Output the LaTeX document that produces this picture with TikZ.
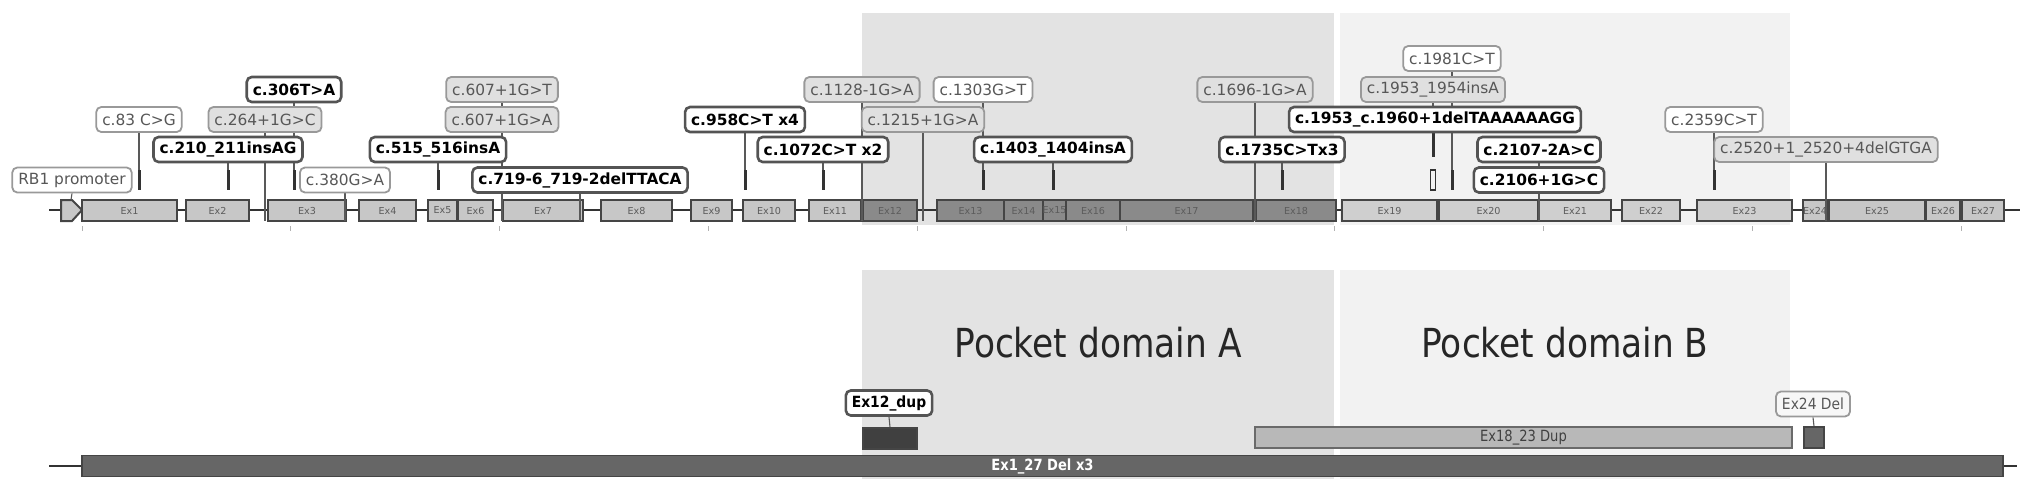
\documentclass[tikz,border=0pt]{standalone}
\usepackage{fontspec}
\setmainfont{DejaVu Sans}
\usetikzlibrary{backgrounds}
\definecolor{shadeA}{gray}{0.89}
\definecolor{shadeB}{gray}{0.95}
\definecolor{exA}{gray}{0.78}
\definecolor{exD}{gray}{0.54}
\definecolor{exB}{gray}{0.81}
\definecolor{exline}{gray}{0.27}
\definecolor{extext}{gray}{0.36}
\definecolor{labline}{gray}{0.6}
\definecolor{boldline}{gray}{0.33}
\definecolor{labtext}{gray}{0.34}
\definecolor{labgray}{gray}{0.88}
\definecolor{connc}{gray}{0.35}
\definecolor{tickc}{gray}{0.2}
\definecolor{delc}{gray}{0.4}
\definecolor{dupd}{gray}{0.25}
\definecolor{dupl}{gray}{0.72}
\definecolor{axc}{gray}{0.7}
\pgfdeclarelayer{bottomlayer}
\pgfdeclarelayer{linelayer}
\pgfsetlayers{bottomlayer,linelayer,main}
\tikzset{
  lab/.style={draw=labline, rounded corners=2.5pt, inner xsep=3pt, inner ysep=0pt,
    minimum height=12.5pt, font=\fontsize{7.7}{8}\selectfont, line width=0.9pt},
  labb/.style={lab, draw=boldline, fill=white, text=black,
    font=\fontsize{7.7}{8}\selectfont\bfseries, line width=1.3pt},
  labp/.style={lab, fill=white, text=labtext},
  labg/.style={lab, fill=labgray, text=labtext},
  conn/.style={draw=connc, line width=0.55pt},
  splice/.style={draw=connc, line width=0.7pt},
  tickm/.style={draw=tickc, line width=1.5pt},
  exon/.style={draw=exline, line width=1pt, minimum height=10.5pt, inner sep=0pt,
    font=\fontsize{4.8}{5}\selectfont, text=extext},
  bar/.style={draw=exline, line width=0.8pt, minimum height=10.5pt, inner sep=0pt},
  pocket/.style={font=\fontsize{20}{22}\selectfont, text=black!85},
  axtick/.style={draw=axc, line width=0.4pt},
  backbone/.style={draw=tickc, line width=1.3pt}
}
\begin{document}
\begin{tikzpicture}[x=0.5pt,y=-0.5pt]
\useasboundingbox (0,0) rectangle (2031,494);

\begin{pgfonlayer}{bottomlayer}
  % domain shading
  \fill[shadeA] (862,13) rectangle (1334,225);
  \fill[shadeB] (1340,13) rectangle (1790,225);
  \fill[shadeA] (862,270) rectangle (1334,479);
  \fill[shadeB] (1340,270) rectangle (1790,479);
  % axis ticks
  \foreach \k in {0,...,9} \draw[axtick] ({82+208.8*\k},226) -- ++(0,5);
  % backbone
  \coordinate (bbL) at (49,210);
  \coordinate (bbR) at (2020,210);
  \draw[backbone] (bbL) -- (bbR);
  % promoter
  \draw[fill=exA, draw=exline, line width=1pt] (61,200) -- (72,200) -- (82,210) -- (72,221) -- (61,221) -- cycle;
  \coordinate (promtop) at (71,200);
  % exons
  \foreach \n/\s/\e/\c in {1/82/177/exA, 2/186/249/exA, 3/268/346/exA, 4/359/416/exA,
      5/428/457/exA, 6/458/493/exA, 7/503/583/exA, 8/601/672/exA, 9/691/732/exA,
      10/743/795/exA, 11/809/861/exA, 12/863/917/exD, 13/937/1004/exD, 14/1004/1043/exD,
      15/1043/1066/exD, 16/1066/1120/exD, 17/1120/1253/exD, 18/1256/1336/exD,
      19/1342/1437/exB, 20/1439/1538/exB, 21/1539/1611/exB, 22/1622/1680/exB,
      23/1697/1792/exB, 24/1804/1826/exA, 25/1829/1925/exA, 26/1926/1960/exA, 27/1962/2004/exA}
    \node[exon, fill=\c, minimum width={(\e-\s)*0.5pt}] (ex\n) at ({(\s+\e)/2},210.5) {Ex\n};
  % lower panel backbone
  \coordinate (lbL) at (49,466);
  \coordinate (lbR) at (2017,466);
  \draw[backbone] (lbL) -- (lbR);
\end{pgfonlayer}

% lower panel bars
\node[bar, fill=delc, minimum width={(2003-82)*0.5pt}, text=white,
  font=\fontsize{7.7}{8}\selectfont\bfseries] (del127) at (1042.5,466) {\scalebox{0.85}[1]{Ex1\_27 Del x3}};
\node[bar, fill=dupd, minimum width=27pt] (ex12dup) at (890,438.5) {};
\node[bar, fill=dupl, draw=exline!80, minimum width={(1792-1255)*0.5pt}, text=black!75,
  font=\fontsize{7.7}{8}\selectfont] (dup1823) at (1523.5,437.5) {\scalebox{0.85}[1]{Ex18\_23 Dup}};
\node[bar, fill=delc, minimum width=10pt] (ex24del) at (1814,437.5) {};
\node[labb] (ex12lab) at (889,403) {\scalebox{0.9}[1]{Ex12\_dup}};
\node[labp, fill=black!3] (ex24lab) at (1813,404) {\scalebox{0.9}[1]{Ex24 Del}};
\node[pocket] (pA) at (1098,343) {\scalebox{0.86}[1]{Pocket domain A}};
\node[pocket] (pB) at (1565,343) {\scalebox{0.86}[1]{Pocket domain B}};

% variant labels
\node[labp] (prom) at (72,180) {RB1 promoter};
\node[labp] (v83) at (139,119.5) {c.83 C>G};
\node[labb] (v306) at (294,89.5) {c.306T>A};
\node[labg] (v264) at (265,119.5) {c.264+1G>C};
\node[labb] (v210) at (228,149.5) {c.210\_211insAG};
\node[labp] (v380) at (345,180) {c.380G>A};
\node[labb] (v515) at (438,149.5) {c.515\_516insA};
\node[labg] (v607T) at (502,89.5) {c.607+1G>T};
\node[labg] (v607A) at (502,119.5) {c.607+1G>A};
\node[labb] (v719) at (580,180) {c.719-6\_719-2delTTACA};
\node[labb] (v958) at (745,119.5) {c.958C>T x4};
\node[labb] (v1072) at (823,149.5) {c.1072C>T x2};
\node[labg] (v1128) at (862,89.5) {c.1128-1G>A};
\node[labg] (v1215) at (923,119.5) {c.1215+1G>A};
\node[labp] (v1303) at (983,89.5) {c.1303G>T};
\node[labb] (v1403) at (1053,149.5) {c.1403\_1404insA};
\node[labg] (v1696) at (1255,89.5) {c.1696-1G>A};
\node[labb] (v1735) at (1282,149.5) {c.1735C>Tx3};
\node[labp] (v1981) at (1452,58.5) {c.1981C>T};
\node[labg] (v1953i) at (1433,89.5) {c.1953\_1954insA};
\node[labb] (v1953d) at (1435,119.5) {c.1953\_c.1960+1delTAAAAAAGG};
\node[labb] (v2107) at (1539,149.5) {c.2107-2A>C};
\node[labb] (v2106) at (1539,180) {c.2106+1G>C};
\node[labp] (v2359) at (1714,119.5) {c.2359C>T};
\node[labg] (v2520) at (1826,149.5) {c.2520+1\_2520+4delGTGA};

\begin{pgfonlayer}{linelayer}
  % tick-type variants
  \foreach \v/\x in {v83/139, v306/294, v210/228, v515/438, v958/745, v1072/823,
      v1303/983, v1403/1053, v1735/1282, v1981/1452, v2359/1714} {
    \coordinate (\v-t) at (\x,170);
    \coordinate (\v-b) at (\x,190);
    \draw[conn] (\v.south) -- (\v-t);
    \draw[tickm] (\v-t) -- (\v-b);
  }
  % splice-type variants
  \foreach \v/\x in {v264/265, v380/345, v607A/502, v719/580, v1128/862,
      v1215/923, v1696/1255, v2106/1539, v2520/1826} {
    \coordinate (\v-e) at (\x,221);
    \draw[splice] (\v.south) -- (\v-e);
  }
  \draw[splice] (v607T.south) -- (v607A.north);
  \draw[splice] (v2107.south) -- (v2106.north);
  \draw[conn] (prom.south) -- (promtop);
  % c.1953 variants
  \coordinate (m1953t) at (1433,133);
  \coordinate (m1953) at (1433,157);
  \draw[conn] (v1953i.south) -- (m1953t);
  \draw[tickm] (m1953t) -- (m1953);
  \node[draw=tickc, line width=0.8pt, minimum width=2.5pt, minimum height=10pt, inner sep=0pt] (r1953) at (1433,180) {};
  % lower labels
  \draw[conn] (ex12lab.south) -- (ex12dup.north);
  \draw[conn] (ex24lab.south) -- (ex24del.north);
\end{pgfonlayer}
\end{tikzpicture}
\end{document}
